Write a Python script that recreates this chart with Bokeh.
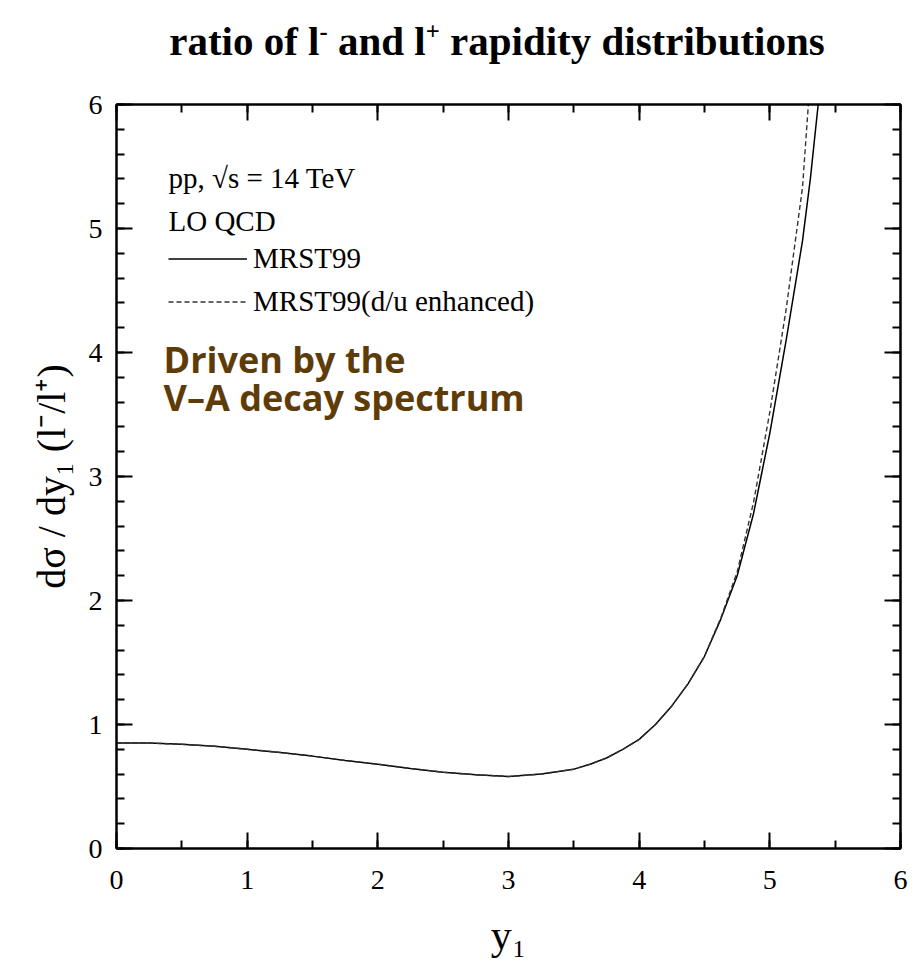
from bokeh.plotting import figure
from bokeh.layouts import column
from bokeh.models import (Range1d, LinearAxis, SingleIntervalTicker, Label, Legend, LegendItem,
                          CustomJSTickFormatter, Div)
from bokeh.embed import file_html
from bokeh.resources import INLINE

# ---- data ----
x_mrst = [0.0, 0.25, 0.5, 0.75, 1.0, 1.25, 1.5, 1.75, 2.0, 2.25, 2.5, 2.75, 3.0, 3.25, 3.5,
          3.625, 3.75, 3.875, 4.0, 4.125, 4.25, 4.375, 4.5, 4.625, 4.75, 4.875, 5.0, 5.125,
          5.25, 5.31, 5.37]
r_mrst = [0.85, 0.85, 0.84, 0.825, 0.80, 0.775, 0.745, 0.71, 0.68, 0.645, 0.615, 0.595, 0.58,
          0.60, 0.64, 0.68, 0.73, 0.80, 0.88, 1.00, 1.15, 1.33, 1.55, 1.85, 2.20, 2.70, 3.35,
          4.10, 4.90, 5.40, 6.00]

x_enh = [0.0, 0.25, 0.5, 0.75, 1.0, 1.25, 1.5, 1.75, 2.0, 2.25, 2.5, 2.75, 3.0, 3.25, 3.5,
         3.625, 3.75, 3.875, 4.0, 4.125, 4.25, 4.375, 4.5, 4.625, 4.75, 4.875, 5.0, 5.125,
         5.25, 5.295]
r_enh = [0.85, 0.85, 0.84, 0.825, 0.80, 0.775, 0.745, 0.71, 0.68, 0.645, 0.615, 0.595, 0.58,
         0.60, 0.64, 0.68, 0.73, 0.80, 0.88, 1.00, 1.15, 1.33, 1.55, 1.86, 2.23, 2.79, 3.52,
         4.35, 5.33, 6.00]

title_html = ("ratio of l<sup style='font-size:60%'>-</sup> and "
              "l<sup style='font-size:60%'>+</sup> rapidity distributions")
x_label = "y\u2081"
y_label = "d\u03c3 / dy\u2081 (l\u207b/l\u207a)"
series_names = ["MRST99", "MRST99(d/u enhanced)"]
info_lines = ["pp, \u221as = 14 TeV", "LO QCD"]
note_lines = ["Driven by the", "V\u2013A decay spectrum"]

SERIF = "Liberation Serif"
TITLE_H = 72

title_div = Div(text=title_html, width=924, height=TITLE_H, margin=(0, 0, 0, 0),
                styles={"font-family": SERIF, "font-size": "41px", "font-weight": "bold",
                        "color": "black", "line-height": "52px", "padding-top": "6px",
                        "padding-left": "70px", "text-align": "center",
                        "box-sizing": "border-box", "width": "924px",
                        "background-color": "white"})

p = figure(frame_width=784, frame_height=744,
           min_border_left=116, min_border_right=24, min_border_top=104 - TITLE_H,
           min_border_bottom=121,
           x_range=Range1d(0, 6), y_range=Range1d(0, 6),
           output_backend="svg", toolbar_location=None,
           background_fill_color="white", border_fill_color="white")
p.margin = (0, 0, 0, 0)
p.xgrid.visible = False
p.ygrid.visible = False
p.outline_line_color = "black"
p.outline_line_width = 2

xt = SingleIntervalTicker(interval=1, num_minor_ticks=2)
yt = SingleIntervalTicker(interval=1, num_minor_ticks=5)

def style_axis(ax, show_labels=True):
    ax.major_tick_in = 16
    ax.major_tick_out = 0
    ax.minor_tick_in = 8
    ax.minor_tick_out = 0
    ax.axis_line_width = 2
    ax.axis_line_color = "black"
    ax.major_tick_line_width = 2
    ax.minor_tick_line_width = 2
    ax.major_tick_line_color = "black"
    ax.minor_tick_line_color = "black"
    ax.major_label_text_font = SERIF
    ax.major_label_text_color = "black"
    ax.major_label_text_font_size = "28px"
    if not show_labels:
        ax.formatter = CustomJSTickFormatter(code="return '';")
        ax.major_label_standoff = 0
    ax.axis_label_text_font = SERIF
    ax.axis_label_text_font_style = "normal"
    ax.axis_label_text_color = "black"

p.xaxis.ticker = xt
p.yaxis.ticker = yt
style_axis(p.xaxis[0])
style_axis(p.yaxis[0])
p.xaxis.major_label_standoff = 22
p.yaxis.major_label_standoff = 14
p.xaxis.axis_label = x_label
p.xaxis.axis_label_text_font_size = "42px"
p.xaxis.axis_label_standoff = 20
p.yaxis.axis_label = y_label
p.yaxis.axis_label_text_font_size = "40px"
p.yaxis.axis_label_standoff = 12

top = LinearAxis(ticker=SingleIntervalTicker(interval=1, num_minor_ticks=2))
style_axis(top, show_labels=False)
p.add_layout(top, "above")
right = LinearAxis(ticker=SingleIntervalTicker(interval=1, num_minor_ticks=5))
style_axis(right, show_labels=False)
p.add_layout(right, "right")

r1 = p.line(x_mrst, r_mrst, line_color="black", line_width=1.5)
r2 = p.line(x_enh, r_enh, line_color="#333333", line_width=1.4, line_dash="5 3")

legend = Legend(items=[LegendItem(label=series_names[0], renderers=[r1]),
                       LegendItem(label=series_names[1], renderers=[r2])],
                location=(52, 525))
legend.background_fill_alpha = 0
legend.border_line_alpha = 0
legend.padding = 0
legend.margin = 0
legend.spacing = 0
legend.glyph_width = 79
legend.glyph_height = 43
legend.label_height = 43
legend.label_standoff = 6
legend.label_text_font = SERIF
legend.label_text_font_size = "29px"
legend.label_text_color = "black"
legend.label_text_baseline = "middle"
p.add_layout(legend)

for txt, yy in zip(info_lines, [5.404, 5.057]):
    p.add_layout(Label(x=0.398, y=yy, text=txt, text_font=SERIF, text_font_size="29px",
                       text_color="black", text_baseline="alphabetic", text_align="left"))

for txt, yy in zip(note_lines, [3.94, 3.64]):
    p.add_layout(Label(x=0.36, y=yy, text=txt, text_font="Open Sans", text_font_style="bold",
                       text_font_size="36px", text_color="#5E3C08",
                       text_baseline="alphabetic", text_align="left"))

layout = column(title_div, p, spacing=0)
layout.margin = (0, 0, 0, 0)

open("out.html", "w").write(file_html(layout, INLINE))
